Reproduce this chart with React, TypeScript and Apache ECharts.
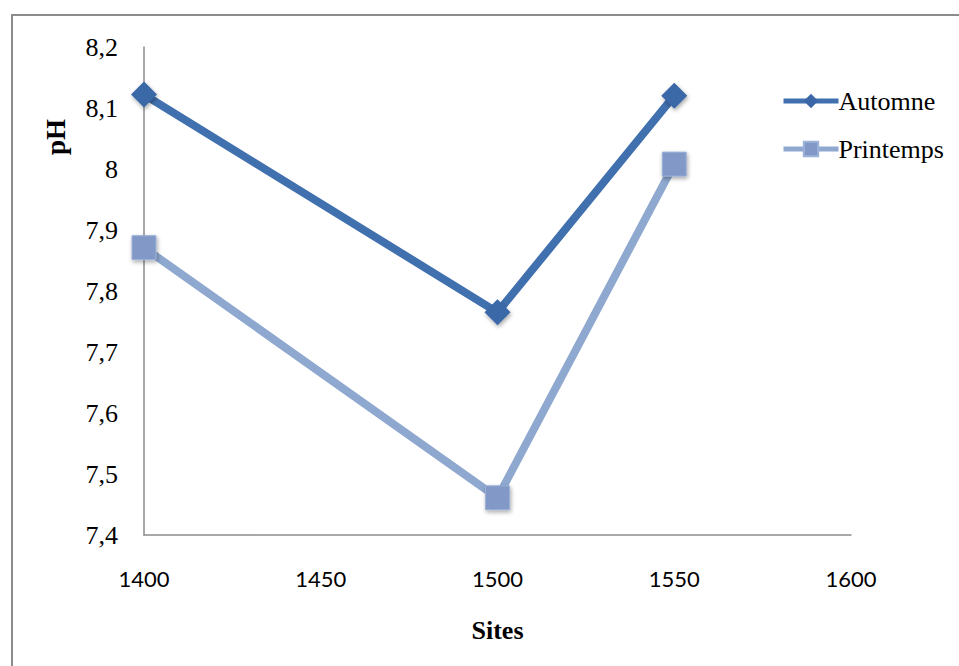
import React, { useEffect, useRef } from "react";
import * as echarts from "echarts";

const sites = [1400, 1500, 1550];
const automne = [8.122, 7.765, 8.12];
const printemps = [7.871, 7.461, 8.008];
const yTicks = ["7,4", "7,5", "7,6", "7,7", "7,8", "7,9", "8", "8,1", "8,2"];

const serif = "'Liberation Serif', 'Times New Roman', serif";

export default function App() {
  const ref = useRef<HTMLDivElement>(null);
  useEffect(() => {
    document.body.style.margin = "0";
    const chart = echarts.init(ref.current!, null, { renderer: "svg" });
    const shadow = {
      shadowBlur: 4,
      shadowColor: "rgba(0,0,0,0.35)",
      shadowOffsetX: 1,
      shadowOffsetY: 2,
    };
    chart.setOption({
      animation: false,
      backgroundColor: "#ffffff",
      grid: { left: 144, right: 108, top: 47, bottom: 131, containLabel: false },
      graphic: [
        {
          type: "polyline",
          shape: { points: [[12, 700], [12, 15], [1000, 15]] },
          style: { stroke: "#8c8c8c", lineWidth: 2, fill: "none" },
          silent: true,
        },
        {
          type: "text",
          x: 56,
          y: 137,
          rotation: Math.PI / 2,
          style: {
            text: "pH",
            font: `bold 27px ${serif}`,
            fill: "#000",
            align: "center",
            verticalAlign: "middle",
          },
        },
      ],
      legend: {
        orient: "vertical",
        left: 776,
        top: 83,
        itemWidth: 55,
        itemHeight: 18,
        itemGap: 22,
        textStyle: {
          fontFamily: serif,
          fontSize: 26,
          color: "#000",
          padding: [0, 0, 0, -5],
        },
        data: [
          { name: "Automne", lineStyle: { width: 5 } },
          { name: "Printemps", lineStyle: { width: 5 } },
        ],
      },
      xAxis: {
        type: "value",
        min: 1400,
        max: 1600,
        interval: 50,
        name: "Sites",
        nameLocation: "middle",
        nameGap: 82,
        nameTextStyle: {
          fontFamily: serif,
          fontWeight: "bold",
          fontSize: 26,
          color: "#000",
        },
        axisLine: { show: true, lineStyle: { color: "#8c8c8c", width: 1.5 } },
        axisTick: { show: false },
        splitLine: { show: false },
        axisLabel: {
          margin: 32,
          fontFamily: "Lato, 'Open Sans', sans-serif",
          fontSize: 22,
          color: "#000",
          formatter: (v: number) => String(v),
        },
      },
      yAxis: {
        type: "value",
        min: 7.4,
        max: 8.2,
        interval: 0.1,
        axisLine: { show: true, lineStyle: { color: "#8c8c8c", width: 1.5 } },
        axisTick: { show: false },
        splitLine: { show: false },
        axisLabel: {
          margin: 26,
          fontFamily: serif,
          fontSize: 26,
          color: "#000",
          formatter: (v: number) => {
            const idx = Math.round((v - 7.4) / 0.1);
            return yTicks[idx] ?? "";
          },
        },
      },
      series: [
        {
          name: "Automne",
          type: "line",
          data: sites.map((s, i) => [s, automne[i]]),
          symbol: "diamond",
          symbolSize: 26,
          lineStyle: { color: "#4170ae", width: 8 },
          itemStyle: { color: "#3b67a7", ...shadow },
          z: 3,
        },
        {
          name: "Printemps",
          type: "line",
          data: sites.map((s, i) => [s, printemps[i]]),
          symbol: "rect",
          symbolSize: 24,
          lineStyle: { color: "#8ea8cf", width: 8 },
          itemStyle: { color: "#8299c7", borderColor: "#9cb2d8", borderWidth: 1, ...shadow },
          z: 2,
        },
      ],
    });
    return () => chart.dispose();
  }, []);
  return (
    <div
      ref={ref}
      style={{ position: "absolute", left: 0, top: 0, width: 959, height: 666 }}
    />
  );
}
